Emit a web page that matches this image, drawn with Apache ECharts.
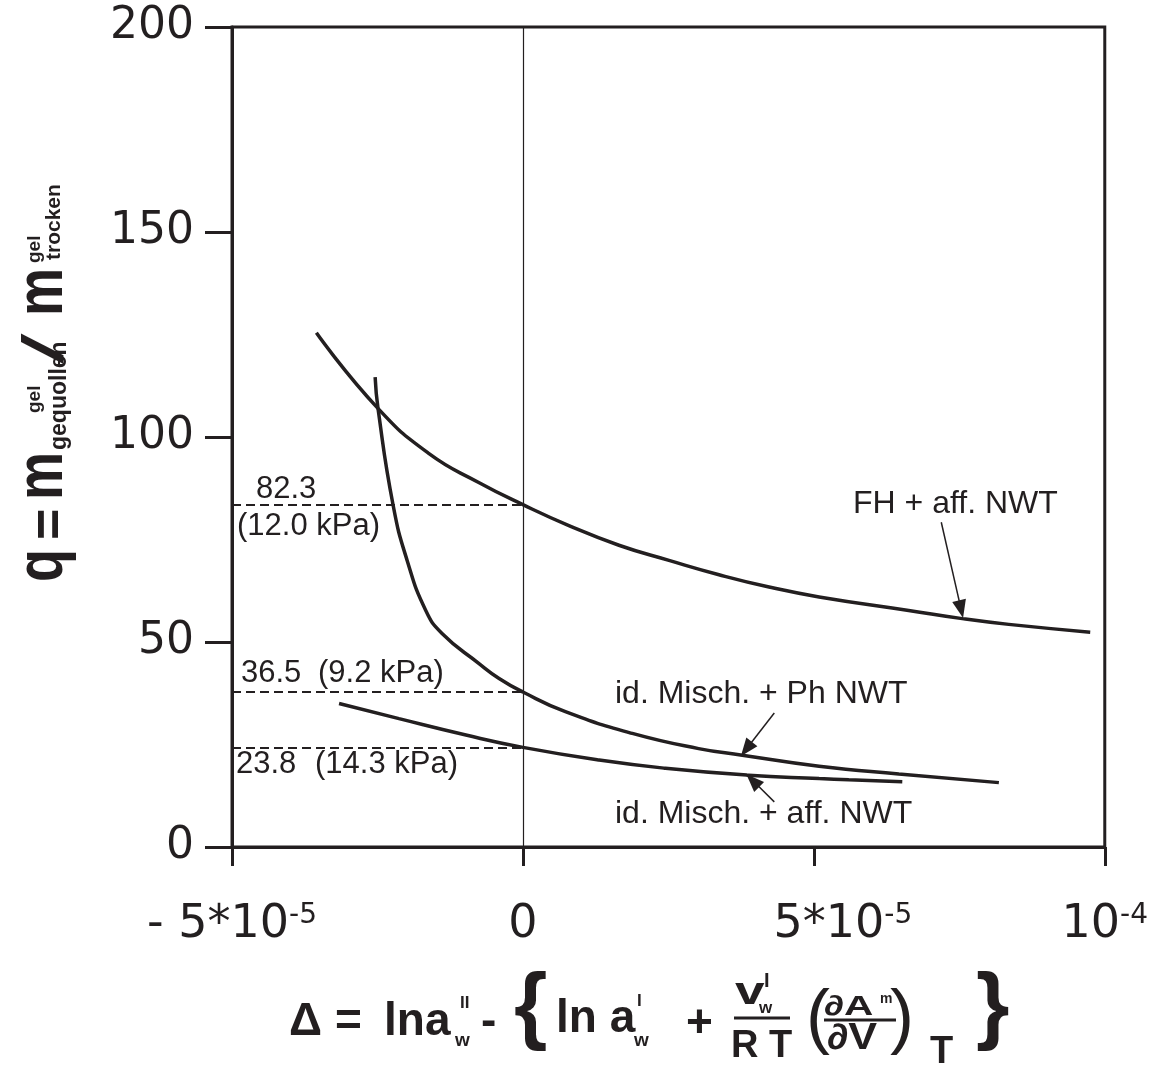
<!DOCTYPE html>
<html><head><meta charset="utf-8">
<script src="https://cdn.jsdelivr.net/npm/echarts@6/dist/echarts.min.js"></script>
<style>html,body{margin:0;padding:0;background:#fff}#c{width:1151px;height:1067px}</style>
</head><body><div id="c"></div>
<script>
const INK = '#231f20';

// ---- data (x = Δ, y = q) ----
const fhAffX = [-3.55e-5, -2.50e-5, -1.62e-5, -0.76e-5, 0, 0.79e-5, 1.65e-5, 2.51e-5, 3.37e-5, 4.23e-5, 5.09e-5, 6.63e-5, 7.55e-5, 8.35e-5, 9.75e-5];
const fhAffQ = [125.4, 107.1, 96.0, 88.9, 83.5, 78.4, 73.6, 69.9, 66.4, 63.4, 61.0, 57.7, 55.7, 54.3, 52.4];

const idPhX = [-2.54e-5, -2.49e-5, -2.23e-5, -1.99e-5, -1.67e-5, -1.39e-5, -0.76e-5, -0.41e-5, 0, 0.73e-5, 1.88e-5, 3.02e-5, 3.77e-5, 5.09e-5, 6.46e-5, 8.18e-5];
const idPhQ = [114.6, 106.9, 83.3, 69.9, 57.7, 52.1, 44.8, 41.1, 37.8, 33.0, 27.7, 24.0, 22.4, 19.7, 17.8, 15.7];

const idAffX = [-3.16e-5, -2.13e-5, -0.98e-5, 0, 1.31e-5, 2.45e-5, 3.88e-5, 5.09e-5, 5.60e-5, 6.52e-5];
const idAffQ = [35.0, 31.3, 27.3, 24.3, 21.2, 19.2, 17.5, 16.7, 16.4, 15.9];

// q at Δ = 0 (dashed reference lines) and their labels
const refQ = [83.5, 37.8, 24.3];
const refValueLabels = ['82.3', '36.5', '23.8'];
const refPressureLabels = ['(12.0 kPa)', '(9.2 kPa)', '(14.3 kPa)'];

// arrows: [tail, head] in data coords
const arrowFH = [[7.19e-5, 79.2], [7.53e-5, 58.0]];
const arrowPh = [[4.32e-5, 32.7], [3.84e-5, 23.9]];
const arrowAff = [[4.32e-5, 11.0], [3.95e-5, 16.2]];

const curveNames = ['FH + aff. NWT', 'id. Misch. + Ph NWT', 'id. Misch. + aff. NWT'];

// tick labels
const xTickLabels = ['- 5*10{s|-5}', '0', '{p| }5*10{s|-5}', '10{s|-4}'];
const yMin = 0, yMax = 200, yStep = 50;
const xMin = -5e-5, xMax = 1e-4, xStep = 5e-5;

function zip(xs, ys) { return xs.map((x, i) => [x, ys[i]]); }

function txt(text, x, base, size, o) {
  o = o || {};
  return {
    type: 'text', x: x, y: base, scaleX: o.sx || 1, scaleY: o.sy || 1, silent: true,
    style: {
      text: text, x: 0, y: -0.35 * size, fill: INK, fontSize: size,
      fontFamily: o.ff || 'Liberation Sans', fontWeight: o.fw || 'normal',
      align: 'left', verticalAlign: 'middle'
    }
  };
}
function bar(x1, x2, y) {
  return { type: 'line', silent: true, shape: { x1: x1, y1: y, x2: x2, y2: y }, style: { stroke: INK, lineWidth: 3 } };
}

const B = 'bold';
// y axis title (rotated group)
const yTitle = {
  type: 'group', x: 0, y: 600, rotation: Math.PI / 2,
  children: [
    txt('q', 18, 67, 54, { fw: B, sy: 1.25 }),
    txt('=', 60, 70, 54, { fw: B }),
    txt('m', 100, 67, 54, { fw: B, sy: 1.25 }),
    txt('gequollen', 150, 68, 23, { fw: B }),
    txt('gel', 187, 41, 19, { fw: B }),
    txt('/', 236, 67, 58, { sx: 1.9, sy: 1.0 }),
    txt('m', 284, 67, 54, { fw: B, sy: 1.25 }),
    txt('gel', 337, 41, 19, { fw: B }),
    txt('trocken', 340, 62, 21, { fw: B })
  ]
};

// x axis title (formula)
const xTitle = [
  txt('Δ', 289, 1038, 46, { fw: B }),
  txt('=', 335, 1038, 46, { fw: B }),
  txt('lna', 384, 1038, 46, { fw: B }),
  txt('II', 460, 1009, 17, { fw: B }),
  txt('w', 455, 1047, 19, { fw: B }),
  txt('-', 481, 1038, 46, { fw: B }),
  txt('{', 514, 1039, 86, { fw: B }),
  txt('ln a', 556, 1035, 46, { fw: B }),
  txt('I', 637, 1007, 17, { fw: B }),
  txt('w', 634, 1047, 19, { fw: B }),
  txt('+', 686, 1040, 46, { fw: B }),
  txt('v', 735, 1007, 38, { fw: B, sx: 1.4 }),
  txt('I', 764, 988, 20, { fw: B }),
  txt('w', 759, 1014, 17, { fw: B }),
  bar(734, 790, 1018),
  txt('R T', 731, 1060, 38, { fw: B }),
  txt('(', 806, 1045, 72),
  txt('∂A', 824, 1017, 28, { fw: B, sx: 1.45 }),
  txt('m', 880, 1004, 14, { fw: B }),
  bar(824, 896, 1020),
  txt('∂V', 827, 1052, 36, { fw: B, sx: 1.2 }),
  txt(')', 890, 1045, 72),
  txt('T', 930, 1066, 38, { fw: B }),
  txt('}', 976, 1039, 86, { fw: B })
];

const annotations = [
  txt(refValueLabels[0], 256, 500, 31),
  txt(refPressureLabels[0], 237, 537, 31),
  txt(refValueLabels[1], 241, 684, 31),
  txt(refPressureLabels[1], 318, 684, 31),
  txt(refValueLabels[2], 236, 775, 31),
  txt(refPressureLabels[2], 315, 775, 31),
  txt(curveNames[0], 853, 515, 32),
  txt(curveNames[1], 615, 705, 32),
  txt(curveNames[2], 615, 825, 32)
];

function arrowLine(a) {
  return [{ coord: a[0] }, { coord: a[1] }];
}

const lineCommon = {
  type: 'line', showSymbol: false, symbol: 'none', smooth: 0.5,
  lineStyle: { color: INK, width: 3.5 }, silent: true, z: 3
};

function arrowMark(a) {
  return {
    silent: true, symbol: ['none', 'triangle'], symbolSize: [14, 18],
    label: { show: false },
    lineStyle: { color: INK, width: 1.5, type: 'solid' },
    data: [arrowLine(a)]
  };
}

const option = {
  animation: false,
  backgroundColor: '#fff',
  grid: { left: 232, right: 46, top: 27, bottom: 220, show: true, borderColor: INK, borderWidth: 3 },
  xAxis: {
    type: 'value', min: xMin, max: xMax, interval: xStep,
    axisLine: { show: true, onZero: false, lineStyle: { color: INK, width: 3 } },
    axisTick: { show: true, inside: false, length: 19, lineStyle: { color: INK, width: 3 } },
    splitLine: { show: false },
    axisLabel: {
      margin: 55, color: INK, fontFamily: 'DejaVu Sans', fontSize: 46, lineHeight: 46,
      formatter: function (v) { return xTickLabels[Math.round((v - xMin) / xStep)] || ''; },
      rich: {
        s: { fontSize: 28, lineHeight: 28, verticalAlign: 'top', fontFamily: 'DejaVu Sans', color: INK },
        p: { fontSize: 46, width: 58, fontFamily: 'DejaVu Sans' }
      }
    }
  },
  yAxis: {
    type: 'value', min: yMin, max: yMax, interval: yStep,
    axisLine: { show: true, onZero: false, lineStyle: { color: INK, width: 3 } },
    axisTick: { show: true, inside: false, length: 27, lineStyle: { color: INK, width: 3 } },
    splitLine: { show: false },
    axisLabel: { margin: 38, color: INK, fontFamily: 'DejaVu Sans', fontSize: 44 }
  },
  series: [
    Object.assign({}, lineCommon, { name: curveNames[0], data: zip(fhAffX, fhAffQ), markLine: arrowMark(arrowFH) }),
    Object.assign({}, lineCommon, { name: curveNames[1], data: zip(idPhX, idPhQ), markLine: arrowMark(arrowPh) }),
    Object.assign({}, lineCommon, { name: curveNames[2], data: zip(idAffX, idAffQ), markLine: arrowMark(arrowAff) }),
    {
      type: 'line', data: [], silent: true,
      markLine: {
        silent: true, symbol: 'none', label: { show: false },
        lineStyle: { color: INK, width: 1.2, type: 'solid' },
        data: [{ xAxis: 0 }]
      }
    },
    {
      type: 'line', data: [], silent: true,
      markLine: {
        silent: true, symbol: 'none', label: { show: false },
        lineStyle: { color: INK, width: 2, type: [9, 5] },
        data: refQ.map(q => [{ coord: [xMin, q] }, { coord: [0, q] }])
      }
    }
  ],
  graphic: [yTitle].concat(xTitle, annotations)
};

const chart = echarts.init(document.getElementById('c'), null, { renderer: 'canvas' });
chart.setOption(option);
</script>
</body></html>
